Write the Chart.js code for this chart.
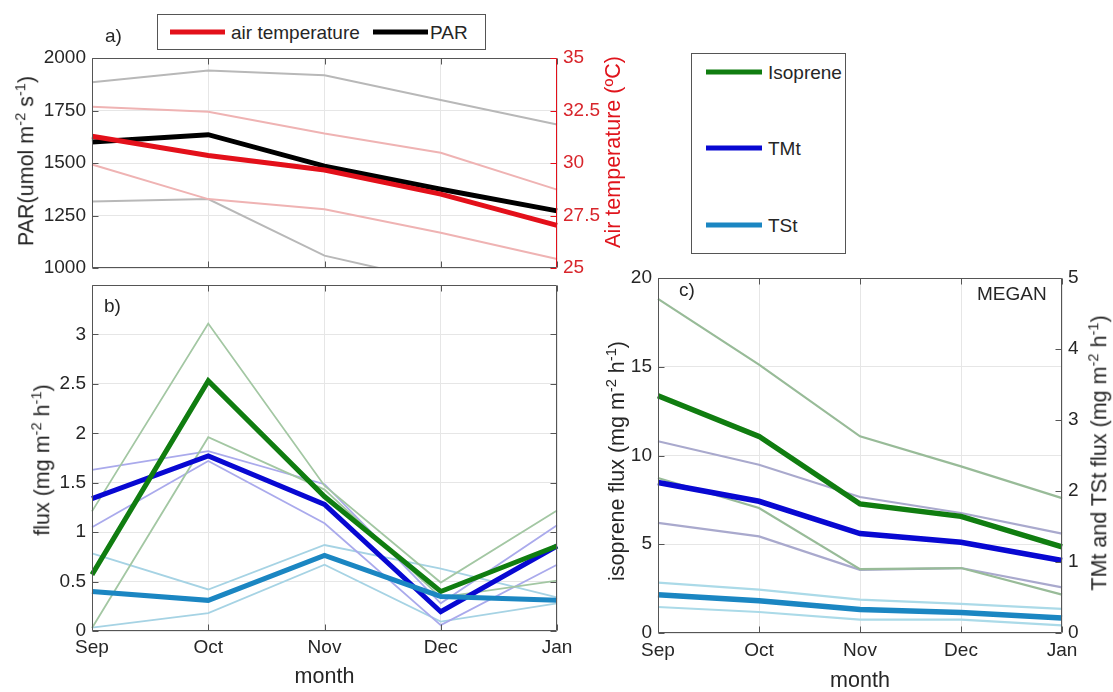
<!DOCTYPE html>
<html><head><meta charset="utf-8">
<script src="https://cdn.jsdelivr.net/npm/chart.js@4.4.1/dist/chart.umd.min.js"></script>
<style>
html,body{margin:0;padding:0;background:#fff;}
body{width:1113px;height:692px;position:relative;overflow:hidden;font-family:"Liberation Sans",Arial,Helvetica,sans-serif;color:#262626;}
canvas.layer{position:absolute;left:0;top:0;}
.txt{position:absolute;white-space:nowrap;line-height:1;font-size:19px;transform:translateY(-50%);}
.ytitle{position:absolute;white-space:nowrap;line-height:1;font-size:21.5px;transform:translate(-50%,-50%) rotate(-90deg);}
.ytitle sup{font-size:0.68em;line-height:0;vertical-align:0.55em;}
.legbox{position:absolute;border:1px solid #555;background:#fff;box-sizing:border-box;}
.sw{position:absolute;height:5px;transform:translateY(-50%);}
.lt{position:absolute;font-size:19px;line-height:1;transform:translateY(-50%);white-space:nowrap;}
</style></head>
<body>
<canvas id="ca" class="layer" width="1113" height="692"></canvas>
<canvas id="cb" class="layer" width="1113" height="692"></canvas>
<canvas id="cc" class="layer" width="1113" height="692"></canvas>

<div class="txt" style="left:105px;top:35px;">a)</div>
<div class="txt" style="left:104px;top:305px;">b)</div>
<div class="txt" style="left:679px;top:289px;">c)</div>
<div class="txt" style="left:977px;top:293px;">MEGAN</div>

<div class="ytitle" style="left:27px;top:161px;">PAR(umol m<sup>-2</sup> s<sup>-1</sup>)</div>
<div class="ytitle" style="left:614px;top:152px;color:#e0141c;">Air temperature (ºC)</div>
<div class="ytitle" style="left:43px;top:460px;">flux (mg m<sup>-2</sup> h<sup>-1</sup>)</div>
<div class="ytitle" style="left:618px;top:461px;">isoprene flux (mg m<sup>-2</sup> h<sup>-1</sup>)</div>
<div class="ytitle" style="left:1100px;top:453px;">TMt and TSt flux (mg m<sup>-2</sup> h<sup>-1</sup>)</div>

<div class="legbox" style="left:157px;top:14px;width:329px;height:36px;"></div>
<div class="sw" style="left:170px;top:32px;width:55px;background:#e3101a;"></div>
<div class="lt" style="left:231px;top:32px;">air temperature</div>
<div class="sw" style="left:373px;top:32px;width:55px;background:#000;"></div>
<div class="lt" style="left:430px;top:32px;">PAR</div>

<div class="legbox" style="left:691px;top:53px;width:155px;height:201px;"></div>
<div class="sw" style="left:706px;top:72px;width:56px;background:#107d10;"></div>
<div class="lt" style="left:768px;top:72px;">Isoprene</div>
<div class="sw" style="left:706px;top:148px;width:56px;background:#0808d2;"></div>
<div class="lt" style="left:768px;top:148px;">TMt</div>
<div class="sw" style="left:706px;top:225px;width:56px;background:#1b86c2;"></div>
<div class="lt" style="left:768px;top:225px;">TSt</div>

<script>
// ---------- data ----------
const months = ['Sep', 'Oct', 'Nov', 'Dec', 'Jan'];

// panel a) PAR (left axis) and air temperature (right axis)
const parMean  = [1600, 1635, 1485, 1375, 1272];
const parHigh  = [1885, 1940, 1918, 1800, 1683];
const parLow   = [1317, 1328, 1059, 933, 870];
const tempMean = [31.27, 30.36, 29.67, 28.52, 27.03];
const tempHigh = [32.68, 32.44, 31.40, 30.49, 28.73];
const tempLow  = [29.93, 28.28, 27.80, 26.68, 25.43];
const parTicks  = [1000, 1250, 1500, 1750, 2000];
const tempTicks = [25, 27.5, 30, 32.5, 35];

// panel b) measured fluxes
const isoB     = [0.57, 2.53, 1.36, 0.40, 0.86];
const isoBHigh = [1.21, 3.11, 1.47, 0.49, 1.22];
const isoBLow  = [0.03, 1.96, 1.43, 0.34, 0.51];
const tmtB     = [1.34, 1.77, 1.28, 0.195, 0.86];
const tmtBHigh = [1.63, 1.82, 1.485, 0.28, 1.07];
const tmtBLow  = [1.05, 1.72, 1.09, 0.06, 0.67];
const tstB     = [0.40, 0.31, 0.765, 0.35, 0.31];
const tstBHigh = [0.785, 0.42, 0.87, 0.63, 0.34];
const tstBLow  = [0.035, 0.18, 0.67, 0.095, 0.28];
const fluxTicks = [0, 0.5, 1, 1.5, 2, 2.5, 3];

// panel c) MEGAN fluxes (isoprene on left axis, TMt/TSt on right axis)
const isoC     = [13.37, 11.08, 7.27, 6.57, 4.85];
const isoCHigh = [18.82, 15.12, 11.08, 9.39, 7.60];
const isoCLow  = [8.73, 7.04, 3.60, 3.66, 2.16];
const tmtC     = [2.12, 1.855, 1.40, 1.277, 1.02];
const tmtCHigh = [2.70, 2.37, 1.915, 1.69, 1.40];
const tmtCLow  = [1.55, 1.36, 0.89, 0.915, 0.643];
const tstC     = [0.54, 0.455, 0.33, 0.29, 0.21];
const tstCHigh = [0.71, 0.61, 0.47, 0.41, 0.34];
const tstCLow  = [0.366, 0.296, 0.188, 0.188, 0.108];
const isoTicks = [0, 5, 10, 15, 20];
const tTicks   = [0, 1, 2, 3, 4, 5];

// ---------- styling ----------
const TXT = '#262626', GRID = '#e6e6e6', AX = '#555555';
const RED = '#e3101a', RED_T = '#d8262c', BLACK = '#000000';
const GREEN = '#107d10', BLUE = '#0808d2', TST = '#1b86c2';
const TICKFONT = { size: 19 };

Chart.defaults.font.family = '"Liberation Sans", Arial, Helvetica, sans-serif';
Chart.defaults.font.size = 19;
Chart.defaults.color = TXT;

function ds(data, color, width, axis, order) {
  return { data, borderColor: color, backgroundColor: color, borderWidth: width,
    pointRadius: 0, pointHoverRadius: 0, tension: 0, fill: false, yAxisID: axis, order,
    borderJoinStyle: 'miter', borderCapStyle: 'butt' };
}
function fixTicks(arr) { return s => { s.ticks = arr.map(v => ({ value: v })); }; }
const plain = v => String(v);

const boxPlugin = {
  id: 'boxAxes',
  afterDraw(chart, args, o) {
    const { ctx, chartArea: a } = chart;
    const L = 6;
    const l = Math.round(a.left) + 0.5, r = Math.round(a.right) - 0.5;
    const t = Math.round(a.top) + 0.5, b = Math.round(a.bottom) - 0.5;
    ctx.save();
    ctx.lineWidth = 1;
    const line = (x1, y1, x2, y2, c) => { ctx.strokeStyle = c; ctx.beginPath(); ctx.moveTo(x1, y1); ctx.lineTo(x2, y2); ctx.stroke(); };
    line(l, t, r, t, AX); line(l, b, r, b, AX);
    line(l, t, l, b, o.leftColor || AX); line(r, t, r, b, o.rightColor || AX);
    (o.ticks || []).forEach(spec => {
      const sc = chart.scales[spec.id]; const c = spec.color || AX;
      sc.ticks.forEach((tk, i) => {
        const p = Math.round(sc.getPixelForTick(i)) + 0.5;
        spec.sides.forEach(side => {
          if (side === 'bottom') line(p, b, p, b - L, c);
          if (side === 'top') line(p, t, p, t + L, c);
          if (side === 'left') line(l, p, l + L, p, c);
          if (side === 'right') line(r, p, r - L, p, c);
        });
      });
    });
    ctx.restore();
  }
};

const common = { responsive: false, animation: false, devicePixelRatio: 1, events: [] };

// ---------- panel a ----------
new Chart(document.getElementById('ca'), {
  type: 'line',
  data: { labels: months, datasets: [
    ds(tempMean, RED, 5, 'y2', 1),
    ds(parMean, BLACK, 5, 'y', 2),
    ds(tempHigh, '#efb3b3', 2, 'y2', 5),
    ds(tempLow, '#efb3b3', 2, 'y2', 5),
    ds(parHigh, '#b8b8b8', 2, 'y', 6),
    ds(parLow, '#b8b8b8', 2, 'y', 6)
  ]},
  options: Object.assign({}, common, {
    layout: { padding: { left: 0, top: 58, right: 496, bottom: 424 } },
    plugins: { legend: { display: false }, tooltip: { enabled: false },
      boxAxes: { rightColor: RED, ticks: [
        { id: 'x', sides: ['bottom', 'top'] },
        { id: 'y', sides: ['left'] },
        { id: 'y2', sides: ['right'], color: RED } ] } },
    scales: {
      x: { offset: false, grid: { color: GRID, drawTicks: false }, border: { display: false },
           ticks: { display: false }, afterFit: s => { s.height = 0; } },
      y: { position: 'left', min: 1000, max: 2000, afterBuildTicks: fixTicks(parTicks),
           ticks: { padding: 6, color: TXT, font: TICKFONT, callback: plain },
           grid: { color: GRID, drawTicks: false }, border: { display: false },
           afterFit: s => { s.width = 92; } },
      y2: { position: 'right', min: 25, max: 35, afterBuildTicks: fixTicks(tempTicks),
           ticks: { padding: 6, color: RED_T, font: TICKFONT, callback: plain },
           grid: { display: false, drawTicks: false }, border: { display: false },
           afterFit: s => { s.width = 60; } }
    }
  }),
  plugins: [boxPlugin]
});

// ---------- panel b ----------
new Chart(document.getElementById('cb'), {
  type: 'line',
  data: { labels: months, datasets: [
    ds(tstB, TST, 5, 'y', 1),
    ds(isoB, GREEN, 5, 'y', 2),
    ds(tmtB, BLUE, 5, 'y', 3),
    ds(isoBHigh, '#a3c7a3', 1.8, 'y', 6),
    ds(isoBLow, '#a3c7a3', 1.8, 'y', 6),
    ds(tmtBHigh, '#aaaaec', 1.8, 'y', 6),
    ds(tmtBLow, '#aaaaec', 1.8, 'y', 6),
    ds(tstBHigh, '#a6d3e4', 1.8, 'y', 6),
    ds(tstBLow, '#a6d3e4', 1.8, 'y', 6)
  ]},
  options: Object.assign({}, common, {
    layout: { padding: { left: 0, top: 285, right: 556, bottom: 0 } },
    plugins: { legend: { display: false }, tooltip: { enabled: false },
      boxAxes: { ticks: [
        { id: 'x', sides: ['bottom', 'top'] },
        { id: 'y', sides: ['left', 'right'] } ] } },
    scales: {
      x: { offset: false, grid: { color: GRID, drawTicks: false }, border: { display: false },
           ticks: { padding: 5, color: TXT, maxRotation: 0, autoSkip: false, font: TICKFONT },
           title: { display: true, text: 'month', color: TXT, font: { size: 21.5, lineHeight: 1 }, padding: { top: 0, bottom: 4 } },
           afterFit: s => { s.height = 61; } },
      y: { position: 'left', min: 0, max: 3.5, afterBuildTicks: fixTicks(fluxTicks),
           ticks: { padding: 6, color: TXT, font: TICKFONT, callback: plain },
           grid: { color: GRID, drawTicks: false }, border: { display: false },
           afterFit: s => { s.width = 92; } }
    }
  }),
  plugins: [boxPlugin]
});

// ---------- panel c ----------
new Chart(document.getElementById('cc'), {
  type: 'line',
  data: { labels: months, datasets: [
    ds(isoC, GREEN, 5.5, 'y', 1),
    ds(tmtC, BLUE, 5.5, 'y2', 2),
    ds(tstC, TST, 5.5, 'y2', 3),
    ds(isoCHigh, '#98bb98', 2.2, 'y', 6),
    ds(isoCLow, '#98bb98', 2.2, 'y', 6),
    ds(tmtCHigh, '#a9a9cd', 2.2, 'y2', 6),
    ds(tmtCLow, '#a9a9cd', 2.2, 'y2', 6),
    ds(tstCHigh, '#abdae8', 2.2, 'y2', 6),
    ds(tstCLow, '#abdae8', 2.2, 'y2', 6)
  ]},
  options: Object.assign({}, common, {
    layout: { padding: { left: 588, top: 278, right: 0, bottom: 0 } },
    plugins: { legend: { display: false }, tooltip: { enabled: false },
      boxAxes: { ticks: [
        { id: 'x', sides: ['bottom', 'top'] },
        { id: 'y', sides: ['left'] },
        { id: 'y2', sides: ['right'] } ] } },
    scales: {
      x: { offset: false, grid: { color: GRID, drawTicks: false }, border: { display: false },
           ticks: { padding: 6, color: TXT, maxRotation: 0, autoSkip: false, font: TICKFONT },
           title: { display: true, text: 'month', color: TXT, font: { size: 21.5, lineHeight: 1 }, padding: { top: 0, bottom: 0 } },
           afterFit: s => { s.height = 59; } },
      y: { position: 'left', min: 0, max: 20, afterBuildTicks: fixTicks(isoTicks),
           ticks: { padding: 6, color: TXT, font: TICKFONT, callback: plain },
           grid: { color: GRID, drawTicks: false }, border: { display: false },
           afterFit: s => { s.width = 70; } },
      y2: { position: 'right', min: 0, max: 5, afterBuildTicks: fixTicks(tTicks),
           ticks: { padding: 6, color: TXT, font: TICKFONT, callback: plain },
           grid: { display: false, drawTicks: false }, border: { display: false },
           afterFit: s => { s.width = 51; } }
    }
  }),
  plugins: [boxPlugin]
});
</script>
</body></html>
